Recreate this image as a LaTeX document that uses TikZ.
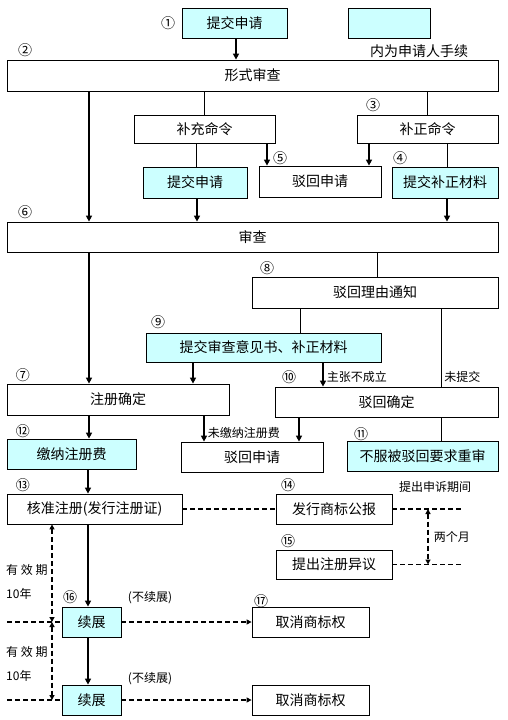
\documentclass[tikz,border=0pt]{standalone}
\usepackage{fontspec}
\setmainfont{Noto Sans CJK SC}
\usepackage{xcolor}
\usetikzlibrary{arrows.meta}
\usetikzlibrary{calc}
\definecolor{appcyan}{RGB}{204,255,255}

\begin{document}
\begin{tikzpicture}[x=1pt,y=-1pt,
        box/.style={draw,line width=0.8pt,inner sep=0pt,font=\fontsize{14}{16}\selectfont},
        appbox/.style={box,fill=appcyan},
        arr/.style={line width=1.6pt,-{Triangle[length=6pt,width=6pt]}},
        link/.style={line width=0.8pt},
        dsh/.style={line width=1.6pt,dash pattern=on 5pt off 3pt},
        lab/.style={font=\fontsize{12}{14}\selectfont,inner sep=1pt},
        num/.style={font=\fontsize{14}{14}\selectfont,inner sep=0pt}]
        \useasboundingbox (0,0) rectangle (507,720);
        \newcommand{\figboxh}{30pt}
        % applicant / office boxes
        \node[appbox,minimum width=105pt,minimum height=\figboxh] (sub1) at (234.5,23) {提交申请};
        \node[appbox,minimum width=82pt,minimum height=\figboxh] (legend) at (389,23) {};
        \node[box,draw=none,fill=none] (legendtext) at (419,51) {内为申请人手续};
        \node[box,minimum width=491pt,minimum height=31pt] (form) at (252.5,75.5) {形式审查};
        \node[box,minimum width=141pt,minimum height=28pt] (supp) at (204.5,129) {补充命令};
        \node[box,minimum width=141pt,minimum height=28pt] (corr) at (427.5,129) {补正命令};
        \node[appbox,minimum width=104pt,minimum height=31pt] (sub2) at (195,182.5) {提交申请};
        \node[box,minimum width=122pt,minimum height=31pt] (rej1) at (320,181.5) {驳回申请};
        \node[appbox,minimum width=106pt,minimum height=31pt] (corrmat) at (445,182.5) {提交补正材料};
        \node[box,minimum width=491pt,minimum height=\figboxh] (exam) at (252.5,237) {审查};
        \node[box,minimum width=246pt,minimum height=31pt] (notice) at (375,292.5) {驳回理由通知};
        \node[appbox,minimum width=235pt,minimum height=29pt] (opinion) at (263.5,347.5) {提交审查意见书、补正材料};
        \node[box,minimum width=222pt,minimum height=31pt] (regok) at (118,399.5) {注册确定};
        \node[box,minimum width=223pt,minimum height=\figboxh] (rejok) at (386.5,402) {驳回确定};
        \node[appbox,minimum width=129pt,minimum height=\figboxh] (fee) at (71.5,454) {缴纳注册费};
        \node[box,minimum width=142pt,minimum height=\figboxh] (rej2) at (252,457) {驳回申请};
        \node[appbox,minimum width=151pt,minimum height=\figboxh] (review) at (422.5,456) {不服被驳回要求重审};
        \node[box,minimum width=175pt,minimum height=\figboxh] (grant) at (94.5,509) {核准注册(发行注册证)};
        \node[box,minimum width=116pt,minimum height=\figboxh] (gazette) at (334,509) {发行商标公报};
        \node[box,minimum width=116pt,minimum height=29pt] (oppose) at (334,564.5) {提出注册异议};
        \node[appbox,minimum width=59pt,minimum height=\figboxh] (renewa) at (91.5,622) {续展};
        \node[box,minimum width=117pt,minimum height=\figboxh] (cancela) at (310.5,622) {取消商标权};
        \node[appbox,minimum width=59pt,minimum height=\figboxh] (renewb) at (91.5,700) {续展};
        \node[box,minimum width=117pt,minimum height=\figboxh] (cancelb) at (310.5,700) {取消商标权};
        % step numbers
        \node[num] (n1) at (168,23) {①};
        \node[num] (n2) at (25,50) {②};
        \node[num] (n3) at (373,105) {③};
        \node[num] (n4) at (400,158) {④};
        \node[num] (n5) at (280,158) {⑤};
        \node[num] (n6) at (25,212) {⑥};
        \node[num] (n7) at (23,375) {⑦};
        \node[num] (n8) at (267,268) {⑧};
        \node[num] (n9) at (158,322) {⑨};
        \node[num] (n10) at (289,377) {⑩};
        \node[num] (n11) at (361,434) {⑪};
        \node[num] (n12) at (23,431) {⑫};
        \node[num] (n13) at (23,485) {⑬};
        \node[num] (n14) at (288,485) {⑭};
        \node[num] (n15) at (288,541) {⑮};
        \node[num] (n16) at (70,597) {⑯};
        \node[num] (n17) at (261,601) {⑰};
        % side texts
        \node[lab] (appeal) at (435,487) {提出申诉期间};
        \node[lab] (nocont) at (150,598) {(不续展)};
        \node[lab] (nocontb) at (150,679) {(不续展)};
        \node[lab,anchor=west] (valida) at (5,570) {有 效 期};
        \node[lab,anchor=west] (yearsa) at (5,594) {10年};
        \node[lab,anchor=west] (validb) at (5,652) {有 效 期};
        \node[lab,anchor=west] (yearsb) at (5,676) {10年};
        \coordinate (appealend) at (464,509);
        \coordinate (opposeend) at (464,564.5);
        \coordinate (lefta) at (7,622);
        \coordinate (leftb) at (7,700);
        % connectors
        \draw[arr] (sub1.south -| 236,0) -- (form.north -| 236,0);
        \draw[arr] (form.south -| 89,0) -- (exam.north -| 89,0);
        \draw[link] (form.south -| 204,0) -- (supp.north -| 204,0);
        \draw[link] (form.south -| 427,0) -- (corr.north -| 427,0);
        \draw[link] (supp.south -| 196,0) -- (sub2.north -| 196,0);
        \draw[arr] (supp.south -| 267,0) -- (rej1.north -| 267,0);
        \draw[arr] (corr.south -| 369,0) -- (rej1.north -| 369,0);
        \draw[link] (corr.south -| 447,0) -- (corrmat.north -| 447,0);
        \draw[arr] (sub2.south -| 197,0) -- (exam.north -| 197,0);
        \draw[arr] (corrmat.south -| 447,0) -- (exam.north -| 447,0);
        \draw[link] (exam.south -| 377,0) -- (notice.north -| 377,0);
        \draw[arr] (exam.south -| 89,0) -- (regok.north -| 89,0);
        \draw[link] (notice.south -| 300,0) -- (opinion.north -| 300,0);
        \draw[link] (notice.south -| 441,0) -- node[lab,pos=0.87,right=2pt] {未提交} (rejok.north -| 441,0);
        \draw[arr] (opinion.south -| 193,0) -- (regok.north -| 193,0);
        \draw[arr] (opinion.south -| 323,0) -- node[lab,pos=0.6,right=2pt] {主张不成立} (rejok.north -| 323,0);
        \draw[arr] (regok.south -| 89,0) -- (fee.north -| 89,0);
        \draw[arr] (regok.south -| 204,0) -- node[lab,pos=0.68,right=2pt] {未缴纳注册费} (rej2.north -| 204,0);
        \draw[arr] (rejok.south -| 299,0) -- (rej2.north -| 299,0);
        \draw[link] (rejok.south -| 441,0) -- (review.north -| 441,0);
        \draw[arr] (fee.south -| 88,0) -- (grant.north -| 88,0);
        \draw[dsh] (grant.east) -- (gazette.west);
        \draw[dsh] (gazette.east) -- (appealend);
        \draw[dsh] (oppose.east) -- (opposeend);
        \draw[dsh,{Triangle[length=5pt,width=5pt]}-{Triangle[length=5pt,width=5pt]}] (gazette.east -| 428,0) -- node[lab,right=4pt] {两个月} (oppose.east -| 428,0);
        \draw[arr] (grant.south -| 88,0) -- (renewa.north -| 88,0);
        \draw[arr] (renewa.south -| 88,0) -- (renewb.north -| 88,0);
        \draw[dsh,-{Triangle[length=5pt,width=5pt]}] (renewa.east) -- (cancela.west);
        \draw[dsh,-{Triangle[length=5pt,width=5pt]}] (renewb.east) -- (cancelb.west);
        \draw[dsh] (lefta) -- (renewa.west);
        \draw[dsh] (leftb) -- (renewb.west);
        \draw[dsh,{Triangle[length=5pt,width=5pt]}-{Triangle[length=5pt,width=5pt]}] (grant.south -| 52,0) -- (renewa.west -| 52,0);
        \draw[dsh,{Triangle[length=5pt,width=5pt]}-{Triangle[length=5pt,width=5pt]}] (renewa.west -| 52,0) -- (renewb.west -| 52,0);
    \end{tikzpicture}
\end{document}
